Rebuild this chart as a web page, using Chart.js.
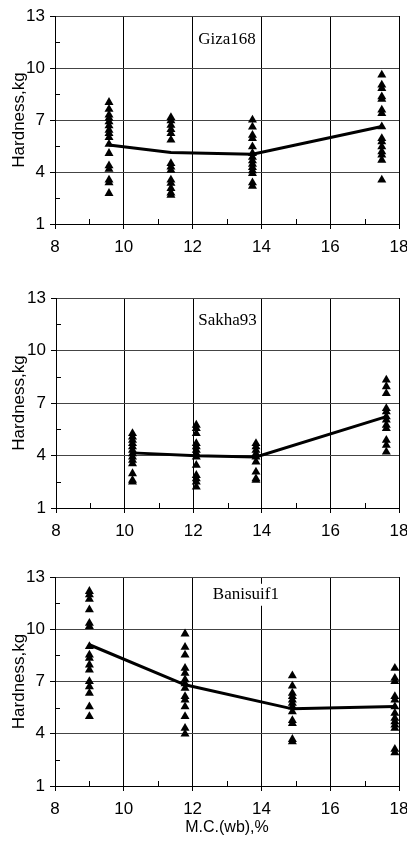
<!DOCTYPE html>
<html>
<head>
<meta charset="utf-8">
<script src="https://cdn.jsdelivr.net/npm/chart.js@4/dist/chart.umd.min.js"></script>
<style>
  body { margin: 0; background: #fff; }
  canvas { position: absolute; left: 0; }
</style>
</head>
<body>
<canvas id="c1" width="407" height="280" style="top:0px"></canvas>
<canvas id="c2" width="407" height="280" style="top:280px"></canvas>
<canvas id="c3" width="407" height="282" style="top:560px"></canvas>
<script>
// Hardness vs moisture content, three varieties stacked

// Giza168
const gizaMC = [9.57, 11.37, 13.74, 17.5];
const gizaMean = [5.56, 5.12, 5.02, 6.62];
const gizaObs = [
  [8.02, 7.62, 7.29, 7.1, 6.9, 6.67, 6.42, 6.23, 6.0, 5.6, 5.08, 4.37, 4.17, 3.54, 3.38, 2.77],
  [7.15, 6.96, 6.7, 6.46, 6.23, 5.85, 4.5, 4.3, 4.1, 3.54, 3.35, 3.06, 2.8, 2.67],
  [7.0, 6.6, 6.13, 5.94, 5.46, 5.08, 4.85, 4.65, 4.46, 4.27, 4.08, 3.92, 3.38, 3.19],
  [9.6, 9.02, 8.83, 8.35, 8.2, 7.58, 7.38, 6.62, 5.94, 5.75, 5.46, 5.17, 4.98, 4.69, 3.54]
];

// Sakha93
const sakhaMC = [10.23, 12.09, 13.83, 17.63];
const sakhaMean = [4.15, 3.98, 3.92, 6.22];
const sakhaObs = [
  [5.26, 5.07, 4.88, 4.69, 4.5, 4.3, 4.11, 3.92, 3.73, 3.54, 2.97, 2.59, 2.49],
  [5.74, 5.55, 5.26, 4.69, 4.5, 4.3, 4.11, 3.92, 3.45, 2.87, 2.68, 2.49, 2.2],
  [4.69, 4.5, 4.3, 4.11, 3.92, 3.64, 3.06, 2.68, 2.59],
  [8.32, 7.94, 7.55, 6.69, 6.5, 6.22, 6.03, 5.74, 5.55, 4.88, 4.59, 4.21]
];

// Banisuif1
const baniMC = [9.0, 11.78, 14.9, 17.88];
const baniMean = [9.11, 6.81, 5.43, 5.56];
const baniObs = [
  [12.18, 11.98, 11.73, 11.12, 10.35, 10.16, 9.01, 8.53, 8.34, 7.96, 7.67, 7.0, 6.71, 6.33, 5.56, 4.99],
  [9.74, 8.97, 8.53, 7.77, 7.48, 7.1, 6.87, 6.62, 6.14, 5.95, 5.56, 4.99, 4.32, 3.99],
  [7.33, 6.75, 6.33, 6.14, 5.95, 5.75, 5.56, 5.27, 4.76, 4.6, 3.68, 3.55],
  [7.77, 7.19, 7.0, 6.14, 5.95, 5.56, 5.18, 4.89, 4.7, 4.51, 4.32, 3.11, 2.92]
];

const xTicks = [8, 10, 12, 14, 16, 18];
const yTicks = [1, 4, 7, 10, 13];

const FONT = '"Liberation Sans", Arial, sans-serif';
const isMajorX = (v) => xTicks.includes(v);
const isMajorY = (v) => yTicks.includes(v);

// short inner ticks between labelled ones + the variety label box
const panelDecor = {
  id: 'panelDecor',
  beforeDatasetsDraw(chart, args, opts) {
    const { ctx, chartArea } = chart;
    const xs = chart.scales.x, ys = chart.scales.y;
    ctx.save();
    ctx.strokeStyle = '#000';
    ctx.lineWidth = 1;
    ctx.beginPath();
    xs.ticks.forEach((t) => {
      if (isMajorX(t.value)) return;
      const px = Math.round(xs.getPixelForValue(t.value)) + 0.5;
      ctx.moveTo(px, chartArea.bottom);
      ctx.lineTo(px, chartArea.bottom - 5);
    });
    ys.ticks.forEach((t) => {
      if (isMajorY(t.value)) return;
      const py = Math.round(ys.getPixelForValue(t.value)) + 0.5;
      ctx.moveTo(chartArea.left, py);
      ctx.lineTo(chartArea.left + 5, py);
    });
    ctx.stroke();

    const cx = chartArea.left + opts.fx * (chartArea.right - chartArea.left);
    const cy = chartArea.top + opts.fy * (chartArea.bottom - chartArea.top);
    ctx.font = '17px "Liberation Serif", "Times New Roman", serif';
    const w = ctx.measureText(opts.text).width;
    ctx.fillStyle = '#fff';
    ctx.fillRect(cx - w / 2 - 4, cy - 11, w + 8, 22);
    ctx.fillStyle = '#000';
    ctx.textAlign = 'center';
    ctx.textBaseline = 'middle';
    ctx.fillText(opts.text, cx, cy);
    ctx.restore();
  }
};

function makePanel(id, mc, mean, obs, cfg) {
  const datasets = [{
    type: 'line',
    data: mc.map((x, i) => ({ x, y: mean[i] })),
    borderColor: '#000',
    borderWidth: 3,
    pointRadius: 0,
    fill: false,
    tension: 0,
    order: 0
  }];
  obs.forEach((col, i) => {
    datasets.push({
      type: 'scatter',
      data: col.map((y) => ({ x: mc[i], y })),
      pointStyle: 'triangle',
      pointRadius: 5.2,
      backgroundColor: '#000',
      borderColor: '#000',
      borderWidth: 0,
      order: 1
    });
  });

  return new Chart(document.getElementById(id), {
    type: 'scatter',
    data: { datasets },
    plugins: [panelDecor],
    options: {
      responsive: false,
      animation: false,
      layout: { padding: { top: cfg.top, right: 8, left: 0, bottom: cfg.bottom } },
      scales: {
        x: {
          type: 'linear',
          min: 8,
          max: 18,
          afterFit: (s) => {
            s.height = cfg.xHeight;
            s.paddingLeft = 0;
            s.paddingRight = 8;
          },
          ticks: {
            stepSize: 1,
            autoSkip: false,
            maxRotation: 0,
            color: '#000',
            padding: 8,
            font: { family: FONT, size: 17 },
            callback: (v) => (isMajorX(v) ? v : '')
          },
          grid: {
            color: (c) => (c.tick && isMajorX(c.tick.value) ? '#000' : 'rgba(0,0,0,0)'),
            tickColor: (c) => (c.tick && isMajorX(c.tick.value) ? '#000' : 'rgba(0,0,0,0)'),
            tickLength: 5
          },
          border: { color: '#000' },
          title: {
            display: !!cfg.xTitle,
            text: cfg.xTitle || '',
            color: '#000',
            font: { family: FONT, size: 16 },
            padding: { top: 0, bottom: 0 }
          }
        },
        y: {
          min: 1,
          max: 13,
          afterFit: (s) => { s.width = cfg.yWidth; },
          ticks: {
            stepSize: 1.5,
            autoSkip: false,
            color: '#000',
            padding: 5,
            font: { family: FONT, size: 17 },
            callback: (v) => (isMajorY(v) ? v : '')
          },
          grid: {
            color: (c) => (c.tick && isMajorY(c.tick.value) ? '#444' : 'rgba(0,0,0,0)'),
            tickColor: (c) => (c.tick && isMajorY(c.tick.value) ? '#000' : 'rgba(0,0,0,0)'),
            tickLength: 5
          },
          border: { color: '#000' },
          title: {
            display: true,
            text: 'Hardness,kg',
            color: '#000',
            font: { family: FONT, size: 17 },
            padding: { top: 9, bottom: 0 }
          }
        }
      },
      plugins: {
        legend: { display: false },
        tooltip: { enabled: false },
        panelDecor: { text: cfg.label, fx: cfg.fx, fy: cfg.fy }
      }
    }
  });
}

makePanel('c1', gizaMC, gizaMean, gizaObs, { top: 16, bottom: 0, xHeight: 56, yWidth: 55, label: 'Giza168', fx: 0.5, fy: 0.115 });
makePanel('c2', sakhaMC, sakhaMean, sakhaObs, { top: 18, bottom: 0, xHeight: 52, yWidth: 56, label: 'Sakha93', fx: 0.5, fy: 0.105 });
makePanel('c3', baniMC, baniMean, baniObs, { top: 17, bottom: 5, xHeight: 51, yWidth: 55, label: 'Banisuif1', fx: 0.555, fy: 0.085, xTitle: 'M.C.(wb),%' });
</script>
</body>
</html>
